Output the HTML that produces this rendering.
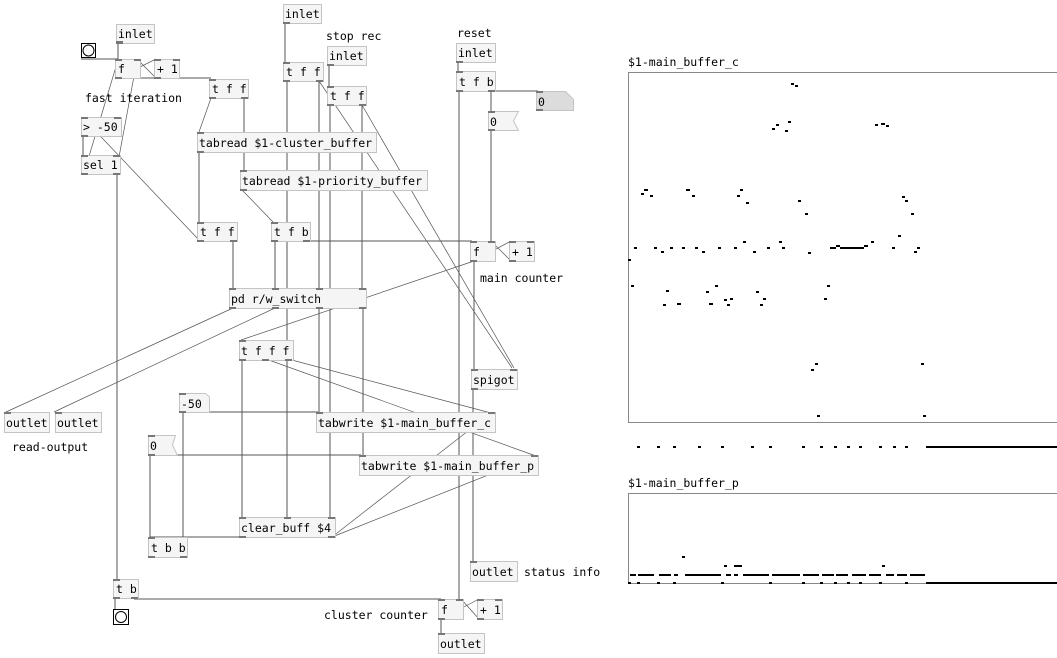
<!DOCTYPE html>
<html><head><meta charset="utf-8"><style>
html,body{margin:0;padding:0;background:#fff;width:1057px;height:658px;overflow:hidden}
svg{display:block}
text{font-family:"DejaVu Sans Mono","Liberation Mono",monospace;font-size:11.5px;fill:#000}
.b{fill:#f5f5f5;stroke:#c4c4c4;stroke-width:1}
.l{stroke:#555;stroke-width:1;fill:none}
.t{stroke:#555;stroke-width:0.7;fill:none}
.p{fill:#777}
.d{fill:#000}
</style></head><body>
<svg width="1057" height="658" viewBox="0 0 1057 658" xmlns="http://www.w3.org/2000/svg">
<!-- thick connections -->
<g class="l">
<line x1="118" y1="42" x2="118" y2="59"/>
<line x1="81" y1="59" x2="118" y2="59"/>
<line x1="118" y1="78" x2="211" y2="78"/>
<line x1="83" y1="136" x2="83" y2="155"/>
<line x1="117" y1="174" x2="117" y2="579"/>
<line x1="244" y1="98" x2="244" y2="170"/>
<line x1="199" y1="152" x2="199" y2="222"/>
<line x1="233" y1="241" x2="233" y2="288"/>
<line x1="275" y1="241" x2="275" y2="288"/>
<line x1="306" y1="241" x2="472" y2="241"/>
<line x1="285" y1="23" x2="285" y2="62"/>
<line x1="287" y1="81" x2="287" y2="517"/>
<line x1="319" y1="81" x2="319" y2="288"/>
<line x1="319" y1="308" x2="319" y2="412"/>
<line x1="329" y1="65" x2="329" y2="86"/>
<line x1="330" y1="105" x2="330" y2="517"/>
<line x1="362" y1="105" x2="362" y2="288"/>
<line x1="363" y1="308" x2="363" y2="455"/>
<line x1="458" y1="62" x2="458" y2="71"/>
<line x1="459" y1="91" x2="459" y2="599"/>
<line x1="491" y1="91" x2="538" y2="91"/>
<line x1="491" y1="91" x2="491" y2="111"/>
<line x1="491" y1="131" x2="491" y2="241"/>
<line x1="474" y1="261" x2="474" y2="369"/>
<line x1="473" y1="389" x2="473" y2="561"/>
<line x1="242" y1="360" x2="242" y2="517"/>
<line x1="181" y1="412" x2="318" y2="412"/>
<line x1="150" y1="455" x2="361" y2="455"/>
<line x1="150" y1="455" x2="150" y2="537"/>
<line x1="183" y1="412" x2="183" y2="537"/>
<line x1="150" y1="537" x2="243" y2="537"/>
<line x1="115" y1="598" x2="115" y2="609"/>
<line x1="134" y1="599" x2="441" y2="599"/>
<line x1="441" y1="619" x2="441" y2="633"/>
</g>
<!-- thin connections -->
<g class="t">
<line x1="118" y1="78" x2="156" y2="59"/>
<line x1="156" y1="78" x2="137" y2="59"/>
<line x1="84" y1="173" x2="118" y2="60"/>
<line x1="119" y1="157" x2="137" y2="60"/>
<line x1="84" y1="119" x2="199" y2="240"/>
<line x1="211" y1="98" x2="199" y2="132"/>
<line x1="242" y1="190" x2="273" y2="222"/>
<line x1="319" y1="81" x2="512" y2="368"/>
<line x1="362" y1="105" x2="514" y2="368"/>
<line x1="233" y1="308" x2="6" y2="412"/>
<line x1="275" y1="308" x2="54" y2="412"/>
<line x1="474" y1="261" x2="511" y2="241"/>
<line x1="511" y1="261" x2="491" y2="241"/>
<line x1="474" y1="261" x2="241" y2="340"/>
<line x1="266" y1="359" x2="536" y2="456"/>
<line x1="288" y1="359" x2="491" y2="413"/>
<line x1="332" y1="537" x2="491" y2="413"/>
<line x1="332" y1="537" x2="536" y2="456"/>
<line x1="441" y1="619" x2="479" y2="599"/>
<line x1="479" y1="619" x2="461" y2="599"/>
</g>
<!-- boxes -->
<g>
<rect class="b" x="116.5" y="24.5" width="38" height="19"/><text x="118" y="38">inlet</text>
<rect x="81.5" y="43.5" width="14" height="14" fill="#fff" stroke="#000"/><circle cx="88.5" cy="50.5" r="5.5" fill="none" stroke="#000"/>
<rect class="b" x="115.5" y="59.5" width="25" height="19"/><text x="118" y="73">f</text>
<rect class="b" x="154.5" y="59.5" width="25" height="19"/><text x="157" y="73">+ 1</text>
<rect class="b" x="209.5" y="79.5" width="39" height="19"/><text x="212" y="93">t f f</text>
<text x="85" y="102">fast iteration</text>
<rect class="b" x="81.5" y="117.5" width="40" height="19"/><text x="83" y="131">&gt; -50</text>
<rect class="b" x="81.5" y="155.5" width="39" height="19"/><text x="83" y="169">sel 1</text>
<rect class="b" x="283.5" y="4.5" width="38" height="19"/><text x="285" y="18">inlet</text>
<rect class="b" x="283.5" y="62.5" width="40" height="19"/><text x="286" y="76">t f f</text>
<text x="326" y="40">stop rec</text>
<rect class="b" x="327.5" y="46.5" width="39" height="19"/><text x="329" y="60">inlet</text>
<rect class="b" x="327.5" y="86.5" width="39" height="19"/><text x="330" y="100">t f f</text>
<rect class="b" x="197.5" y="132.5" width="179" height="20"/><text x="199" y="147">tabread $1-cluster_buffer</text>
<rect class="b" x="240.5" y="170.5" width="187" height="20"/><text x="242" y="185">tabread $1-priority_buffer</text>
<rect class="b" x="197.5" y="222.5" width="40" height="19"/><text x="200" y="236">t f f</text>
<rect class="b" x="271.5" y="222.5" width="39" height="19"/><text x="274" y="236">t f b</text>
<rect class="b" x="229.5" y="288.5" width="137" height="20"/><text x="231" y="303">pd r/w_switch</text>
<text x="457" y="37">reset</text>
<rect class="b" x="456.5" y="43.5" width="39" height="19"/><text x="458" y="57">inlet</text>
<rect class="b" x="456.5" y="71.5" width="39" height="20"/><text x="459" y="86">t f b</text>
<path d="M536.5 91.5 H565.5 L573.5 99.5 V110.5 H536.5 Z" fill="#dcdcdc" stroke="#c4c4c4"/><text x="538" y="106">0</text>
<path d="M488.5 111.5 H518.5 L513.5 121 L518.5 130.5 H488.5 Z" fill="#f5f5f5" stroke="#c4c4c4"/><text x="490" y="126">0</text>
<rect class="b" x="470.5" y="241.5" width="25" height="20"/><text x="473" y="256">f</text>
<rect class="b" x="509.5" y="241.5" width="25" height="20"/><text x="512" y="256">+ 1</text>
<text x="480" y="282">main counter</text>
<rect class="b" x="471.5" y="369.5" width="46" height="20"/><text x="473" y="384">spigot</text>
<rect class="b" x="239.5" y="340.5" width="54" height="20"/><text x="241" y="355">t f f f</text>
<path d="M179.5 393.5 H205.5 L209.5 397 V412.5 H179.5 Z" fill="#f5f5f5" stroke="#c4c4c4"/><text x="181" y="408">-50</text>
<path d="M148.5 435.5 H175.5 L172.5 445 L177.5 455.5 H148.5 Z" fill="#f5f5f5" stroke="#c4c4c4"/><text x="150" y="450">0</text>
<rect class="b" x="316.5" y="412.5" width="179" height="20"/><text x="318" y="427">tabwrite $1-main_buffer_c</text>
<rect class="b" x="359.5" y="455.5" width="179" height="20"/><text x="361" y="470">tabwrite $1-main_buffer_p</text>
<rect class="b" x="239.5" y="517.5" width="96" height="20"/><text x="241" y="532">clear_buff $4</text>
<rect class="b" x="148.5" y="537.5" width="39" height="20"/><text x="151" y="552">t b b</text>
<rect class="b" x="4.5" y="412.5" width="45" height="20"/><text x="6" y="427">outlet</text>
<rect class="b" x="55.5" y="412.5" width="46" height="20"/><text x="57" y="427">outlet</text>
<text x="12" y="451">read-output</text>
<rect class="b" x="470.5" y="561.5" width="47" height="20"/><text x="472" y="576">outlet</text>
<text x="524" y="576">status info</text>
<rect class="b" x="113.5" y="579.5" width="25" height="19"/><text x="116" y="593">t b</text>
<rect x="113.5" y="609.5" width="15" height="15" fill="#fff" stroke="#000"/><circle cx="121" cy="617" r="5.5" fill="none" stroke="#000"/>
<text x="324" y="619">cluster counter</text>
<rect class="b" x="438.5" y="599.5" width="25" height="20"/><text x="441" y="614">f</text>
<rect class="b" x="477.5" y="599.5" width="25" height="20"/><text x="480" y="614">+ 1</text>
<rect class="b" x="438.5" y="633.5" width="46" height="20"/><text x="440" y="648">outlet</text>
</g>
<!-- inlet/outlet tabs -->
<g class="p">
<rect x="116" y="41" width="7" height="3"/>
<rect x="115" y="59" width="7" height="2"/><rect x="134" y="59" width="7" height="2"/><rect x="115" y="77" width="7" height="2"/>
<rect x="154" y="59" width="7" height="2"/><rect x="173" y="59" width="7" height="2"/><rect x="154" y="77" width="7" height="2"/>
<rect x="209" y="79" width="7" height="2"/><rect x="209" y="97" width="7" height="2"/><rect x="241" y="97" width="7" height="2"/>
<rect x="81" y="117" width="7" height="2"/><rect x="114" y="117" width="7" height="2"/><rect x="81" y="135" width="7" height="2"/>
<rect x="81" y="155" width="7" height="2"/><rect x="113" y="155" width="7" height="2"/><rect x="81" y="173" width="7" height="2"/><rect x="113" y="173" width="7" height="2"/>
<rect x="283" y="22" width="7" height="2"/>
<rect x="283" y="62" width="7" height="2"/><rect x="283" y="80" width="7" height="2"/><rect x="316" y="80" width="7" height="2"/>
<rect x="327" y="64" width="7" height="2"/>
<rect x="327" y="86" width="7" height="2"/><rect x="327" y="104" width="7" height="2"/><rect x="359" y="104" width="7" height="2"/>
<rect x="197" y="132" width="7" height="2"/><rect x="197" y="151" width="7" height="2"/>
<rect x="240" y="170" width="7" height="2"/><rect x="240" y="189" width="7" height="2"/>
<rect x="197" y="222" width="7" height="2"/><rect x="197" y="240" width="7" height="2"/><rect x="230" y="240" width="7" height="2"/>
<rect x="271" y="222" width="7" height="2"/><rect x="271" y="240" width="7" height="2"/><rect x="303" y="240" width="7" height="2"/>
<rect x="229" y="288" width="7" height="2"/><rect x="272" y="288" width="7" height="2"/><rect x="316" y="288" width="7" height="2"/><rect x="359" y="288" width="7" height="2"/>
<rect x="229" y="307" width="7" height="2"/><rect x="272" y="307" width="7" height="2"/><rect x="316" y="307" width="7" height="2"/><rect x="359" y="307" width="7" height="2"/>
<rect x="456" y="61" width="7" height="2"/>
<rect x="456" y="71" width="7" height="2"/><rect x="456" y="90" width="7" height="2"/><rect x="488" y="90" width="7" height="2"/>
<rect x="536" y="91" width="7" height="2"/><rect x="536" y="109" width="7" height="2"/>
<rect x="488" y="111" width="7" height="2"/><rect x="488" y="129" width="7" height="2"/>
<rect x="470" y="241" width="7" height="2"/><rect x="488" y="241" width="7" height="2"/><rect x="470" y="260" width="7" height="2"/>
<rect x="509" y="241" width="7" height="2"/><rect x="527" y="241" width="7" height="2"/><rect x="509" y="260" width="7" height="2"/>
<rect x="471" y="369" width="7" height="2"/><rect x="510" y="369" width="7" height="2"/><rect x="471" y="388" width="7" height="2"/>
<rect x="239" y="340" width="7" height="2"/><rect x="239" y="359" width="7" height="2"/><rect x="262" y="359" width="7" height="2"/><rect x="285" y="359" width="7" height="2"/>
<rect x="179" y="393" width="7" height="2"/><rect x="179" y="411" width="7" height="2"/>
<rect x="148" y="435" width="7" height="2"/><rect x="148" y="454" width="7" height="2"/>
<rect x="316" y="412" width="7" height="2"/><rect x="488" y="412" width="7" height="2"/>
<rect x="359" y="455" width="7" height="2"/><rect x="531" y="455" width="7" height="2"/>
<rect x="239" y="517" width="7" height="2"/><rect x="284" y="517" width="7" height="2"/><rect x="328" y="517" width="7" height="2"/>
<rect x="239" y="536" width="7" height="2"/><rect x="328" y="536" width="7" height="2"/>
<rect x="148" y="537" width="7" height="2"/><rect x="148" y="556" width="7" height="2"/><rect x="180" y="556" width="7" height="2"/>
<rect x="4" y="412" width="7" height="2"/><rect x="55" y="412" width="7" height="2"/>
<rect x="470" y="561" width="7" height="2"/>
<rect x="113" y="579" width="7" height="2"/><rect x="113" y="597" width="7" height="2"/><rect x="131" y="597" width="7" height="2"/>
<rect x="438" y="599" width="7" height="2"/><rect x="456" y="599" width="7" height="2"/><rect x="438" y="618" width="7" height="2"/>
<rect x="477" y="599" width="7" height="2"/><rect x="495" y="599" width="7" height="2"/><rect x="477" y="618" width="7" height="2"/>
<rect x="438" y="633" width="7" height="2"/>
</g>
<!-- graph c -->
<text x="628" y="66">$1-main_buffer_c</text>
<rect x="628.5" y="72.5" width="440" height="350" fill="#fff" stroke="#888"/>
<g class="d">
<rect x="791" y="83" width="3" height="2"/><rect x="795" y="85" width="3" height="2"/>
<rect x="772" y="128" width="3" height="2"/><rect x="776" y="124" width="3" height="2"/><rect x="785" y="130" width="3" height="2"/><rect x="788" y="121" width="3" height="2"/>
<rect x="875" y="124" width="3" height="2"/><rect x="881" y="123" width="4" height="2"/><rect x="886" y="125" width="3" height="2"/>
<rect x="641" y="193" width="3" height="2"/><rect x="644" y="189" width="4" height="2"/><rect x="650" y="195" width="3" height="2"/>
<rect x="686" y="189" width="4" height="2"/><rect x="692" y="195" width="3" height="2"/>
<rect x="737" y="195" width="3" height="2"/><rect x="740" y="189" width="3" height="2"/><rect x="746" y="202" width="3" height="2"/>
<rect x="798" y="200" width="3" height="2"/><rect x="805" y="213" width="3" height="2"/>
<rect x="902" y="196" width="3" height="2"/><rect x="905" y="200" width="3" height="2"/><rect x="911" y="213" width="3" height="2"/>
<rect x="634" y="247" width="3" height="2"/><rect x="654" y="247" width="3" height="2"/><rect x="661" y="251" width="3" height="2"/><rect x="670" y="247" width="3" height="2"/><rect x="682" y="247" width="3" height="2"/><rect x="695" y="247" width="3" height="2"/><rect x="702" y="251" width="3" height="2"/><rect x="718" y="247" width="3" height="2"/><rect x="734" y="247" width="3" height="2"/><rect x="743" y="241" width="3" height="2"/><rect x="753" y="251" width="3" height="2"/><rect x="767" y="247" width="3" height="2"/><rect x="779" y="241" width="3" height="2"/><rect x="782" y="247" width="3" height="2"/><rect x="808" y="252" width="3" height="2"/>
<rect x="830" y="247" width="6" height="2"/><rect x="836" y="245" width="4" height="2"/><rect x="840" y="247" width="8" height="2"/><rect x="848" y="247" width="8" height="2"/><rect x="856" y="247" width="8" height="2"/><rect x="864" y="245" width="4" height="2"/><rect x="871" y="241" width="3" height="2"/><rect x="892" y="247" width="3" height="2"/><rect x="898" y="235" width="3" height="2"/><rect x="914" y="251" width="3" height="2"/><rect x="917" y="247" width="3" height="2"/>
<rect x="628" y="259" width="3" height="2"/>
<rect x="631" y="285" width="3" height="2"/><rect x="666" y="290" width="3" height="2"/><rect x="663" y="304" width="3" height="2"/><rect x="677" y="303" width="4" height="2"/><rect x="706" y="291" width="3" height="2"/><rect x="715" y="285" width="3" height="2"/><rect x="709" y="303" width="4" height="2"/><rect x="724" y="299" width="3" height="2"/><rect x="730" y="298" width="3" height="2"/><rect x="727" y="304" width="3" height="2"/><rect x="756" y="291" width="3" height="2"/><rect x="763" y="298" width="3" height="2"/><rect x="760" y="304" width="3" height="2"/><rect x="827" y="285" width="3" height="2"/><rect x="824" y="298" width="3" height="2"/>
<rect x="815" y="363" width="3" height="2"/><rect x="811" y="369" width="3" height="2"/><rect x="921" y="363" width="3" height="2"/>
<rect x="817" y="415" width="3" height="2"/><rect x="923" y="415" width="3" height="2"/>
<rect x="637" y="446" width="3" height="2"/><rect x="657" y="446" width="3" height="2"/><rect x="673" y="446" width="3" height="2"/><rect x="698" y="446" width="3" height="2"/><rect x="721" y="446" width="3" height="2"/><rect x="751" y="446" width="3" height="2"/><rect x="769" y="446" width="3" height="2"/><rect x="802" y="446" width="3" height="2"/><rect x="820" y="446" width="3" height="2"/><rect x="834" y="446" width="3" height="2"/><rect x="847" y="446" width="3" height="2"/><rect x="859" y="446" width="3" height="2"/><rect x="879" y="446" width="3" height="2"/><rect x="893" y="446" width="3" height="2"/><rect x="905" y="446" width="3" height="2"/>
<rect x="926" y="446" width="131" height="2"/>
</g>
<!-- graph p -->
<text x="628" y="487">$1-main_buffer_p</text>
<rect x="628.5" y="493.5" width="440" height="90" fill="#fff" stroke="#888"/>
<g class="d">
<rect x="682" y="556" width="3" height="2"/><rect x="724" y="565" width="3" height="2"/><rect x="734" y="565" width="8" height="2"/><rect x="882" y="565" width="3" height="2"/>
<rect x="630" y="574" width="6" height="2"/><rect x="638" y="574" width="16" height="2"/><rect x="659" y="574" width="12" height="2"/><rect x="674" y="574" width="4" height="2"/><rect x="685" y="574" width="36" height="2"/><rect x="726" y="574" width="5" height="2"/><rect x="734" y="574" width="4" height="2"/><rect x="743" y="574" width="26" height="2"/><rect x="772" y="574" width="28" height="2"/><rect x="803" y="574" width="16" height="2"/><rect x="822" y="574" width="12" height="2"/><rect x="836" y="574" width="12" height="2"/><rect x="852" y="574" width="14" height="2"/><rect x="869" y="574" width="12" height="2"/><rect x="886" y="574" width="8" height="2"/><rect x="897" y="574" width="10" height="2"/><rect x="910" y="574" width="15" height="2"/>
<rect x="628" y="582" width="3" height="2"/><rect x="637" y="582" width="3" height="2"/><rect x="657" y="582" width="3" height="2"/><rect x="673" y="582" width="3" height="2"/><rect x="721" y="582" width="3" height="2"/><rect x="769" y="582" width="3" height="2"/><rect x="802" y="582" width="3" height="2"/><rect x="820" y="582" width="3" height="2"/><rect x="834" y="582" width="3" height="2"/><rect x="847" y="582" width="3" height="2"/><rect x="859" y="582" width="3" height="2"/><rect x="879" y="582" width="3" height="2"/><rect x="905" y="582" width="3" height="2"/>
<rect x="926" y="582" width="131" height="2"/>
</g>
</svg>
</body></html>
